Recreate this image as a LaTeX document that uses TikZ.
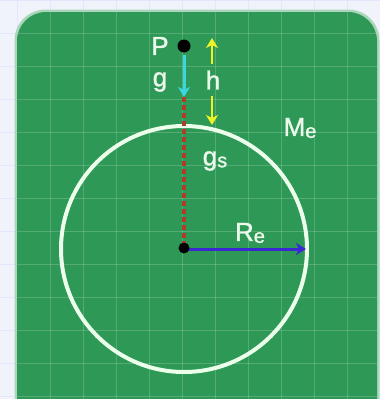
\documentclass[tikz,border=0pt]{standalone}
\usepackage{fontspec}
\setmainfont{Liberation Sans}
\newfontfamily\lblfont{Liberation Sans}[FakeBold=1.3]
\usetikzlibrary{arrows.meta}
\definecolor{bgc}{RGB}{240,244,250}
\definecolor{boardg}{RGB}{46,152,86}
\definecolor{txtc}{RGB}{236,248,236}
\definecolor{cyanc}{RGB}{60,214,224}
\definecolor{redc}{RGB}{170,64,42}
\definecolor{yelc}{RGB}{236,242,40}
\definecolor{bluec}{RGB}{60,40,210}
\tikzset{
  lbl/.style={text=txtc,font=\lblfont\fontsize{26}{26}\selectfont,inner sep=0pt},
  dotnode/.style={circle,fill=black,inner sep=0pt,minimum size=#1},
  arr/.style={line width=3pt,-{Stealth[length=10pt,width=12pt,inset=3pt]}}
}
\newcommand{\mysub}[1]{\raisebox{-2pt}{\fontsize{20}{20}\selectfont #1}}
\begin{document}
\begin{tikzpicture}[x=1pt,y=-1pt]
\useasboundingbox (0,0) rectangle (380,399);
\fill[bgc] (0,0) rectangle (380,399);
\foreach \i in {0,...,11} {\draw[blue!10,line width=0.5pt] (17+33*\i-33,0) -- (17+33*\i-33,399);}
\foreach \i in {0,...,12} {\draw[blue!10,line width=0.5pt] (0,33*\i) -- (380,33*\i);}
\fill[white!60!boardg,rounded corners=31pt] (14.5,430) -- (14.5,9.5) -- (379.5,9.5) -- (379.5,430) -- cycle;
\fill[boardg,rounded corners=29pt] (17,430) -- (17,12) -- (377,12) -- (377,430) -- cycle;
\begin{scope}
\clip[rounded corners=29pt] (17,430) -- (17,12) -- (377,12) -- (377,430) -- cycle;
\foreach \i in {1,...,11} {\draw[white,opacity=0.18,line width=1pt] (17+33*\i,0) -- (17+33*\i,399);}
\foreach \i in {1,...,12} {\draw[white,opacity=0.18,line width=1pt] (0,33*\i) -- (380,33*\i);}
\end{scope}
% earth circle
\node[circle,draw=white!92!green,line width=4pt,minimum size=246pt,inner sep=0pt] (earth) at (184,249) {};
% points
\coordinate (gtop) at (184,55);
\coordinate (gsurf) at (184,97);
\coordinate (rim) at (306,249);
\coordinate (cO) at (184,249);
\coordinate (hup1) at (212,64);
\coordinate (hup2) at (212,38);
\coordinate (hdn1) at (212,96);
\coordinate (hdn2) at (212,125);
\draw[redc,line width=3.5pt,dash pattern=on 5pt off 3pt] (gsurf) -- (earth.center);
\draw[arr,cyanc] (gtop) -- (gsurf);
\draw[arr,yelc,line width=2.5pt] (hup1) -- (hup2);
\draw[arr,yelc,line width=2.5pt] (hdn1) -- (hdn2);
\draw[arr,bluec] (cO) -- (rim);
\node[dotnode=13pt] (P) at (184,46) {};
\node[dotnode=11pt] (O) at (184,248) {};
\node[lbl] (Plbl) at (160,46) {P};
\node[lbl] (glbl) at (160,82) {g};
\node[lbl] (hlbl) at (213,80) {h};
\node[lbl] (gslbl) at (215,161) {g\mysub{s}};
\node[lbl] (Melbl) at (300,128) {M\mysub{e}};
\node[lbl] (Relbl) at (250,233) {R\mysub{e}};
\end{tikzpicture}
\end{document}
